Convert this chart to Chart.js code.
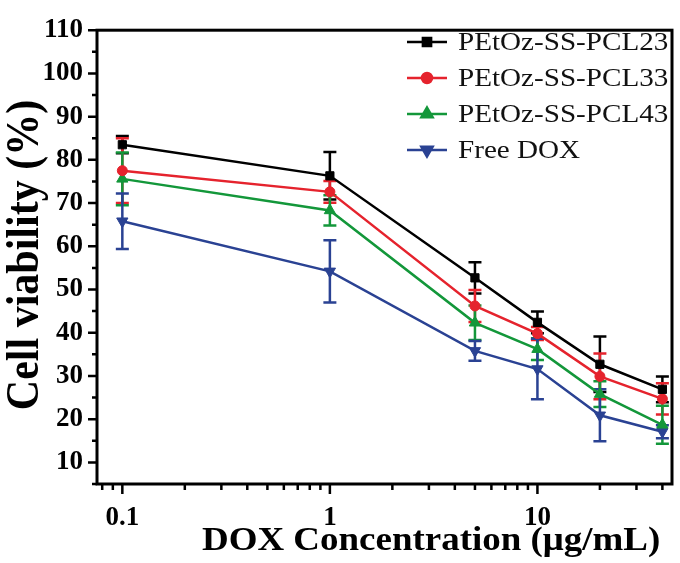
<!DOCTYPE html>
<html>
<head>
<meta charset="utf-8">
<script src="https://cdn.jsdelivr.net/npm/chart.js@4.4.1/dist/chart.umd.min.js"></script>
<style>
  html, body { margin: 0; padding: 0; background: #fff; }
  canvas { display: block; }
</style>
</head>
<body>
<canvas id="viabilityChart" width="680" height="563"></canvas>
<script>
// concentrations (ug/mL) and cell viability (%)
const concentrations = [0.1, 1, 5, 10, 20, 40];
const seriesNames = ['PEtOz-SS-PCL23', 'PEtOz-SS-PCL33', 'PEtOz-SS-PCL43', 'Free DOX'];
const pcl23 = [83.5, 76.3, 52.7, 42.4, 32.7, 26.9];
const pcl23Err = [2.0, 5.5, 3.6, 2.5, 6.4, 3.0];
const pcl33 = [77.5, 72.6, 46.2, 39.8, 29.9, 24.7];
const pcl33Err = [7.5, 2.5, 3.7, 1.5, 5.3, 3.6];
const pcl43 = [75.6, 68.3, 42.3, 36.2, 25.8, 18.7];
const pcl43Err = [6.1, 3.5, 4.0, 2.5, 3.0, 4.4];
const freeDox = [65.8, 54.2, 35.8, 31.6, 20.9, 17.1];
const freeDoxErr = [6.4, 7.2, 2.3, 7.0, 6.0, 1.5];

const xTickLabels = [0.1, 1, 10];
const xMinorTicks = [0.08, 0.09, 0.2, 0.3, 0.4, 0.5, 0.6, 0.7, 0.8, 0.9,
                     2, 3, 4, 5, 6, 7, 8, 9, 20, 30, 40];
const yTickLabels = [10, 20, 30, 40, 50, 60, 70, 80, 90, 100, 110];
const yMinorTicks = [5, 15, 25, 35, 45, 55, 65, 75, 85, 95, 105];

const colors = ['#000000', '#e5232d', '#13973a', '#2a4293'];
const markers = ['rect', 'circle', 'triangle', 'triangle'];
const markerRotation = [0, 0, 0, 180];
const markerRadius = [5.8, 5, 6.5, 6.5];

const values = [pcl23, pcl33, pcl43, freeDox];
const errors = [pcl23Err, pcl33Err, pcl43Err, freeDoxErr];

const serif = '"Liberation Serif", "Times New Roman", serif';
const stretch = 1.12; // the figure's lettering is a little wider than plain Times

const datasets = seriesNames.map((name, i) => ({
    label: name,
    data: concentrations.map((c, j) => ({ x: c, y: values[i][j] })),
    borderColor: colors[i],
    backgroundColor: colors[i],
    borderWidth: 2.5,
    pointStyle: markers[i],
    pointRotation: markerRotation[i],
    pointRadius: markerRadius[i],
    pointBorderWidth: 1,
    tension: 0
}));

// error bars, drawn under the lines and markers
const errorBars = {
    id: 'errorBars',
    beforeDatasetsDraw(chart) {
        const { ctx, scales: { x, y } } = chart;
        ctx.save();
        ctx.lineWidth = 2.5;
        values.forEach((series, i) => {
            ctx.strokeStyle = colors[i];
            ctx.beginPath();
            series.forEach((v, j) => {
                const px = x.getPixelForValue(concentrations[j]);
                const top = y.getPixelForValue(v + errors[i][j]);
                const bot = y.getPixelForValue(v - errors[i][j]);
                ctx.moveTo(px, top); ctx.lineTo(px, bot);
                ctx.moveTo(px - 6.5, top); ctx.lineTo(px + 6.5, top);
                ctx.moveTo(px - 6.5, bot); ctx.lineTo(px + 6.5, bot);
            });
            ctx.stroke();
        });
        ctx.restore();
    }
};

// box around the plot and outward tick marks
const frameAndTicks = {
    id: 'frameAndTicks',
    afterDraw(chart) {
        const { ctx, chartArea: a, scales: { x, y } } = chart;
        ctx.save();
        ctx.strokeStyle = '#000';
        ctx.lineWidth = 2.5;
        ctx.beginPath();
        xTickLabels.forEach(v => {
            const px = x.getPixelForValue(v);
            ctx.moveTo(px, a.bottom); ctx.lineTo(px, a.bottom + 10);
        });
        xMinorTicks.forEach(v => {
            const px = x.getPixelForValue(v);
            ctx.moveTo(px, a.bottom); ctx.lineTo(px, a.bottom + 6);
        });
        yTickLabels.forEach(v => {
            const py = y.getPixelForValue(v);
            ctx.moveTo(a.left, py); ctx.lineTo(a.left - 9, py);
        });
        yMinorTicks.forEach(v => {
            const py = y.getPixelForValue(v);
            ctx.moveTo(a.left, py); ctx.lineTo(a.left - 5, py);
        });
        ctx.stroke();
        ctx.lineWidth = 3;
        ctx.strokeRect(a.left, a.top, a.right - a.left, a.bottom - a.top);
        ctx.restore();
    }
};

// legend in the upper right corner, line sample with marker
const insideLegend = {
    id: 'insideLegend',
    afterDraw(chart) {
        const { ctx } = chart;
        ctx.save();
        chart.data.datasets.forEach((ds, i) => {
            const yy = 42 + i * 36;
            ctx.strokeStyle = ds.borderColor;
            ctx.fillStyle = ds.backgroundColor;
            ctx.lineWidth = 2.5;
            ctx.beginPath();
            ctx.moveTo(407, yy); ctx.lineTo(447, yy);
            ctx.stroke();
            Chart.helpers.drawPoint(ctx, {
                pointStyle: ds.pointStyle,
                rotation: ds.pointRotation,
                radius: ds.pointRadius,
                borderWidth: 1
            }, 427, yy);
            ctx.save();
            ctx.translate(458, yy + 1);
            ctx.scale(stretch, 1);
            ctx.font = '26px ' + serif;
            ctx.textBaseline = 'middle';
            ctx.textAlign = 'left';
            ctx.fillStyle = '#111';
            ctx.fillText(ds.label, 0, 0);
            ctx.restore();
        });
        ctx.restore();
    }
};

// axis titles
const axisTitles = {
    id: 'axisTitles',
    afterDraw(chart) {
        const { ctx } = chart;
        ctx.save();
        ctx.fillStyle = '#000';
        ctx.textBaseline = 'alphabetic';
        ctx.translate(202, 550);
        ctx.scale(stretch, 1);
        ctx.textAlign = 'left';
        ctx.font = 'bold 33px ' + serif;
        ctx.fillText('DOX Concentration (\u03bcg/mL)', 0, 0);
        ctx.restore();

        ctx.save();
        ctx.fillStyle = '#000';
        ctx.translate(26, 255);
        ctx.rotate(-Math.PI / 2);
        ctx.scale(1, stretch);
        ctx.textAlign = 'center';
        ctx.textBaseline = 'middle';
        ctx.font = 'bold 42px ' + serif;
        ctx.fillText('Cell viability (%)', 0, 0);
        ctx.restore();
    }
};

new Chart(document.getElementById('viabilityChart'), {
    type: 'line',
    data: { datasets: datasets },
    options: {
        responsive: false,
        animation: false,
        events: [],
        layout: { padding: { top: 18, right: 8, left: 0, bottom: 0 } },
        plugins: {
            legend: { display: false },
            tooltip: { enabled: false }
        },
        scales: {
            x: {
                type: 'logarithmic',
                min: 0.0755,
                max: 44.5,
                grid: { display: false, drawTicks: false },
                border: { display: false },
                afterBuildTicks: scale => { scale.ticks = xTickLabels.map(v => ({ value: v })); },
                afterFit: scale => { scale.height = 79; },
                ticks: {
                    autoSkip: false,
                    maxRotation: 0,
                    padding: 18,
                    color: '#000',
                    font: { family: serif, size: 27, weight: 'bold' },
                    callback: v => String(v)
                }
            },
            y: {
                type: 'linear',
                min: 5,
                max: 110,
                grid: { display: false, drawTicks: false },
                border: { display: false },
                afterBuildTicks: scale => { scale.ticks = yTickLabels.map(v => ({ value: v })); },
                afterFit: scale => { scale.width = 97; },
                ticks: {
                    padding: 14,
                    color: '#000',
                    font: { family: serif, size: 27, weight: 'bold' }
                }
            }
        }
    },
    plugins: [errorBars, frameAndTicks, insideLegend, axisTitles]
});
</script>
</body>
</html>
